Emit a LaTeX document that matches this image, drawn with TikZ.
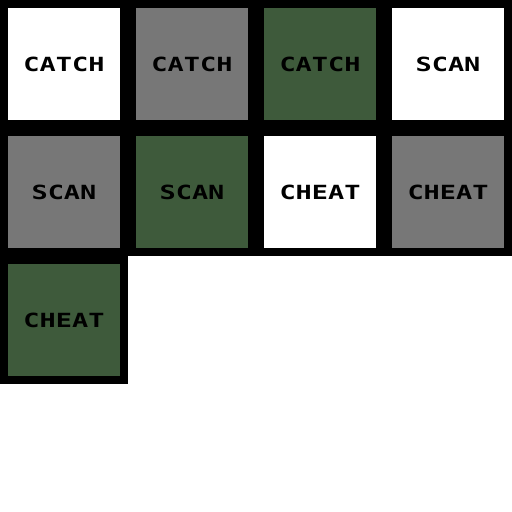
\documentclass[tikz,border=0pt]{standalone}
\usepackage{fontspec}
\newfontfamily\pixfont{DejaVu Sans Mono}
\definecolor{tilegray}{HTML}{777777}
\definecolor{tilegreen}{HTML}{3E5A3B}
\begin{document}
\begin{tikzpicture}[x=1bp,y=-1bp,
  tile/.style={minimum size=112bp,inner sep=0pt,draw=none,anchor=center,
    font=\pixfont\bfseries\fontsize{19.5bp}{20bp}\selectfont,xscale=1,text=black},
  lbl/.style={xscale=1.38},
  ]
\useasboundingbox (0,0) rectangle (512,512);
\fill[white] (0,0) rectangle (512,512);
\fill[black] (0,0) rectangle (512,256);
\fill[black] (0,256) rectangle (128,384);
\node[tile,fill=white] (t1) at (64,64) {\scalebox{1.38}[1]{CATCH}};
\node[tile,fill=tilegray] (t2) at (192,64) {\scalebox{1.38}[1]{CATCH}};
\node[tile,fill=tilegreen] (t3) at (320,64) {\scalebox{1.38}[1]{CATCH}};
\node[tile,fill=white] (t4) at (448,64) {\scalebox{1.38}[1]{SCAN}};
\node[tile,fill=tilegray] (t5) at (64,192) {\scalebox{1.38}[1]{SCAN}};
\node[tile,fill=tilegreen] (t6) at (192,192) {\scalebox{1.38}[1]{SCAN}};
\node[tile,fill=white] (t7) at (320,192) {\scalebox{1.38}[1]{CHEAT}};
\node[tile,fill=tilegray] (t8) at (448,192) {\scalebox{1.38}[1]{CHEAT}};
\node[tile,fill=tilegreen] (t9) at (64,320) {\scalebox{1.38}[1]{CHEAT}};
\end{tikzpicture}
\end{document}
